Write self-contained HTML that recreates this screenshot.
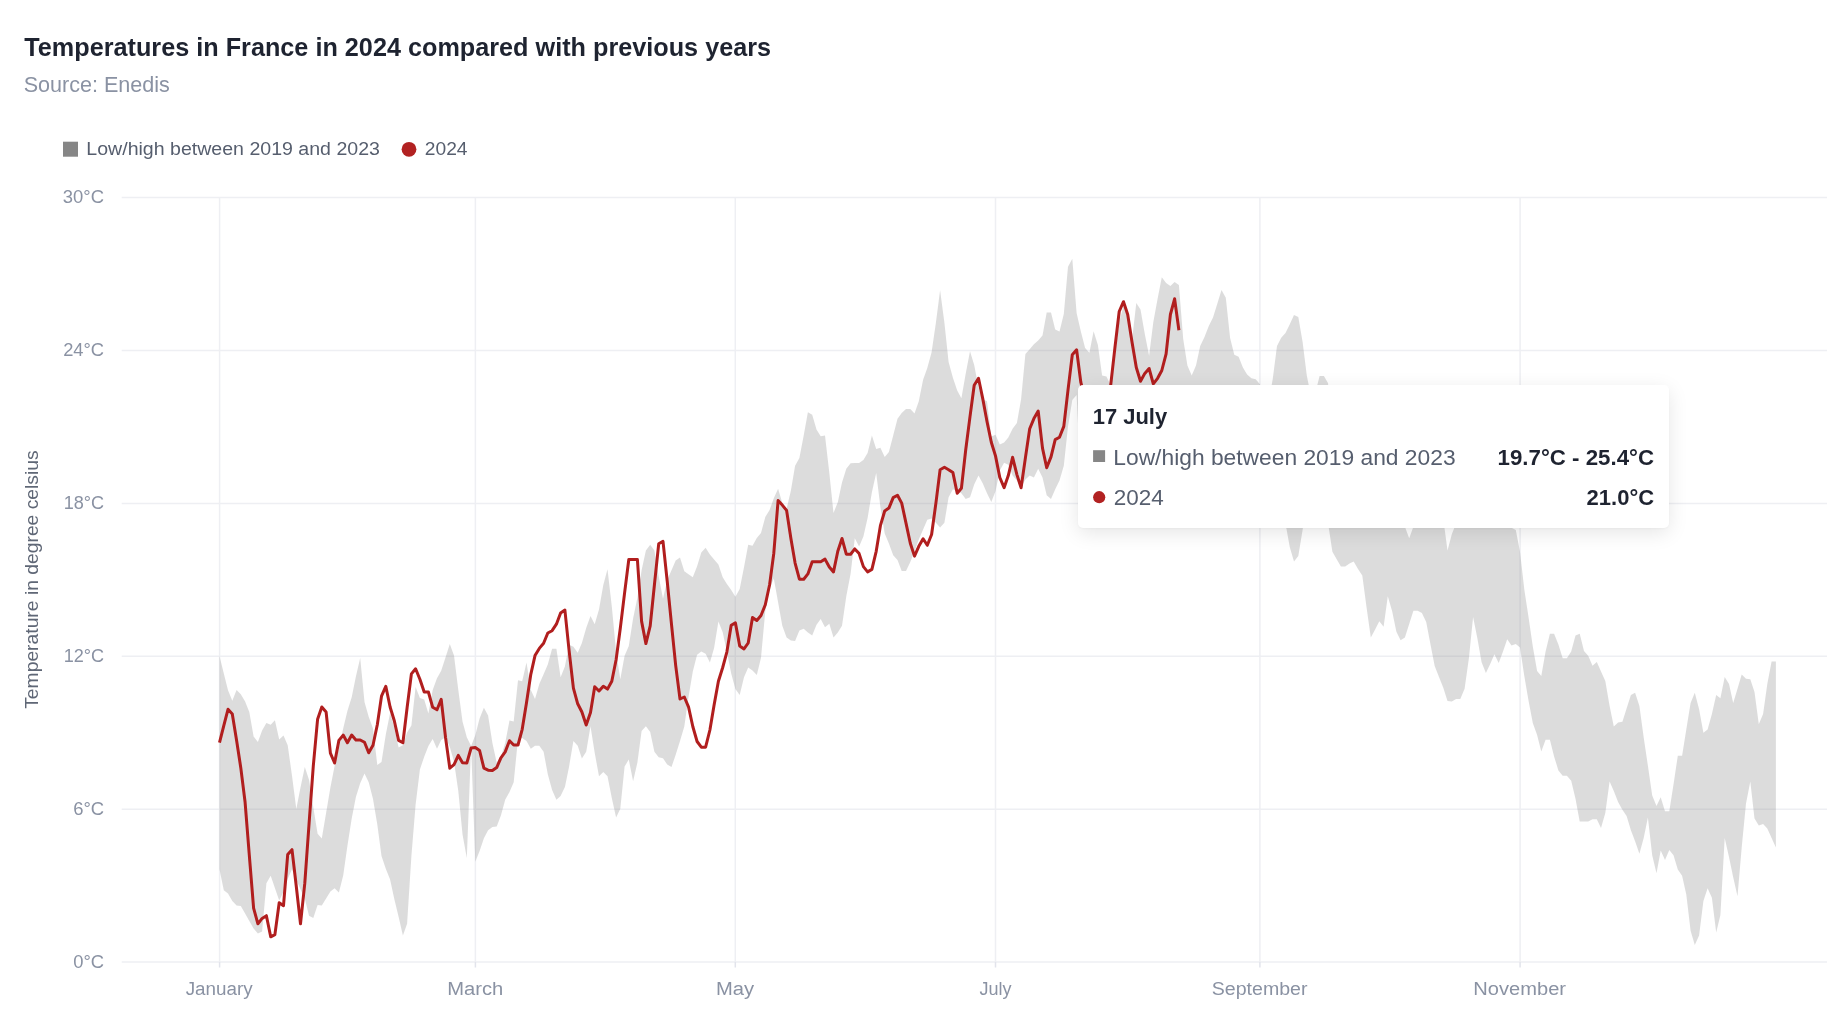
<!DOCTYPE html>
<html><head><meta charset="utf-8">
<style>
html,body{margin:0;padding:0;background:#fff;}
body{width:1842px;height:1018px;overflow:hidden;position:relative;font-family:"Liberation Sans",sans-serif;}
svg{position:absolute;left:0;top:0;will-change:transform;}
text{font-family:"Liberation Sans",sans-serif;}
.tip{position:absolute;left:1078px;top:385px;width:591px;height:142.9px;background:#fff;border-radius:5px;box-shadow:0 5px 20px rgba(0,0,0,0.10),0 1px 3px rgba(0,0,0,0.04);}
</style></head><body>
<svg width="1842" height="1018" viewBox="0 0 1842 1018">
<g stroke="#eeeff3" stroke-width="1.5" fill="none">
<path d="M121.7,197.4H1827M121.7,350.4H1827M121.7,503.4H1827M121.7,656.3H1827M121.7,809.2H1827M121.7,962H1827"/>
<path d="M219.6,197V962M475.4,197V962M735.3,197V962M995.5,197V962M1259.9,197V962M1520.1,197V962"/>
</g>
<path stroke="#e2e4ec" stroke-width="1.5" fill="none" d="M219.6,962V967.5M475.4,962V967.5M735.3,962V967.5M995.5,962V967.5M1259.9,962V967.5M1520.1,962V967.5"/>
<path d="M219.5,655.9L223.8,673.6L228.0,690.3L232.3,700.7L236.6,689.9L240.8,694.2L245.1,701.5L249.3,711.9L253.6,736.4L257.9,741.9L262.1,730.6L266.4,723.1L270.7,724.7L274.9,720.3L279.2,739.4L283.5,735.5L287.7,745.3L292.0,775.7L296.3,809.1L300.5,787.5L304.8,766.9L309.0,779.7L313.3,807.2L317.6,833.7L321.8,838.6L326.1,813.1L330.4,787.5L334.6,765.9L338.9,748.2L343.2,728.6L347.4,710.9L351.7,697.2L355.9,676.5L360.2,657.9L364.5,702.1L368.7,716.8L373.0,728.6L377.3,764.9L381.5,762.0L385.8,734.5L390.1,712.9L394.3,727.6L398.6,747.6L402.9,745.3L407.1,732.5L411.4,725.6L415.6,687.1L419.9,697.9L424.2,699.4L428.4,713.6L432.7,690.0L437.0,678.2L441.2,670.8L445.5,657.6L449.8,643.9L454.0,655.6L458.3,690.0L462.5,721.5L466.8,737.2L471.1,746.0L475.3,735.2L479.6,718.5L483.9,707.7L488.1,715.6L492.4,743.1L496.7,762.7L500.9,756.8L505.2,743.1L509.5,720.5L513.7,721.5L518.0,680.2L522.2,681.2L526.5,662.5L530.8,690.0L535.0,698.9L539.3,684.1L543.6,674.3L547.8,664.5L552.1,648.8L556.4,648.8L560.6,677.2L564.9,666.4L569.1,644.8L573.4,646.8L577.7,652.7L581.9,642.9L586.2,628.1L590.5,616.0L594.7,624.2L599.0,609.5L603.3,585.0L607.5,569.3L611.8,606.6L616.1,651.8L620.3,679.3L624.6,655.7L628.8,645.9L633.1,618.4L637.4,597.8L641.6,570.3L645.9,550.6L650.2,544.7L654.4,550.6L658.7,576.2L663.0,598.8L667.2,580.1L671.5,570.3L675.7,560.5L680.0,557.5L684.3,571.3L688.5,574.2L692.8,577.2L697.1,566.3L701.3,552.6L705.6,547.7L709.9,554.6L714.1,559.5L718.4,564.4L722.7,577.2L726.9,584.0L731.2,589.9L735.4,596.8L739.7,588.9L744.0,567.3L748.2,544.7L752.5,545.7L756.8,537.9L761.0,532.9L765.3,516.9L769.6,510.0L773.8,498.2L778.1,488.8L782.3,503.1L786.6,509.0L790.9,490.4L795.1,465.8L799.4,458.0L803.7,435.4L807.9,412.2L812.2,414.7L816.5,429.5L820.7,436.3L825.0,435.4L829.3,472.7L833.5,513.0L837.8,502.2L842.0,482.5L846.3,468.8L850.6,463.3L854.8,462.9L859.1,462.9L863.4,459.9L867.6,453.0L871.9,435.4L876.2,449.1L880.4,447.7L884.7,457.0L888.9,452.1L893.2,435.4L897.5,418.7L901.7,413.1L906.0,409.1L910.3,409.1L914.5,413.5L918.8,401.3L923.1,379.7L927.3,367.9L931.6,352.2L935.9,322.7L940.1,290.3L944.4,322.7L948.6,362.0L952.9,377.7L957.2,390.5L961.4,398.3L965.7,373.8L970.0,351.2L974.2,364.9L978.5,387.5L982.8,399.3L987.0,401.3L991.3,436.6L995.5,434.7L999.8,444.5L1004.1,442.5L1008.3,437.6L1012.6,428.8L1016.9,422.9L1021.1,399.3L1025.4,354.1L1029.7,349.2L1033.9,344.3L1038.2,340.4L1042.5,335.5L1046.7,312.5L1051.0,312.5L1055.2,329.6L1059.5,331.5L1063.8,313.9L1068.0,266.7L1072.3,258.8L1076.6,312.9L1080.8,331.2L1085.1,347.9L1089.4,352.8L1093.6,331.2L1097.9,344.9L1102.1,375.4L1106.4,376.4L1110.7,385.2L1114.9,355.7L1119.2,322.0L1123.5,306.0L1127.7,316.5L1132.0,340.0L1136.3,303.1L1140.5,309.6L1144.8,334.1L1149.1,355.7L1153.3,322.3L1157.6,298.8L1161.8,277.2L1166.1,283.0L1170.4,286.0L1174.6,282.1L1178.9,285.0L1183.2,339.0L1187.4,365.6L1191.7,375.4L1196.0,365.6L1200.2,345.9L1204.5,337.1L1208.7,326.3L1213.0,317.4L1217.3,303.7L1221.5,289.9L1225.8,297.8L1230.1,338.1L1234.3,354.8L1238.6,356.7L1242.9,367.5L1247.1,374.4L1251.4,378.3L1255.7,379.3L1259.9,384.2L1264.2,397.0L1268.4,402.9L1272.7,379.3L1277.0,345.9L1281.2,337.7L1285.5,333.1L1289.8,324.3L1294.0,314.9L1298.3,317.0L1302.6,342.0L1306.8,375.4L1311.1,397.0L1315.3,393.1L1319.6,376.0L1323.9,376.0L1328.1,383.2L1332.4,470.0L1336.7,470.0L1340.9,470.0L1345.2,470.0L1349.5,470.0L1353.7,470.0L1358.0,470.0L1362.3,470.0L1366.5,470.0L1370.8,470.0L1375.0,470.0L1379.3,470.0L1383.6,470.0L1387.8,470.0L1392.1,470.0L1396.4,470.0L1400.6,470.0L1404.9,526.7L1409.2,538.2L1413.4,526.7L1417.7,470.0L1421.9,470.0L1426.2,470.0L1430.5,470.0L1434.7,470.0L1439.0,470.0L1443.3,519.1L1447.5,550.6L1451.8,534.3L1456.1,523.4L1460.3,470.0L1464.6,470.0L1468.9,470.0L1473.1,470.0L1477.4,470.0L1481.6,470.0L1485.9,470.0L1490.2,470.0L1494.4,470.0L1498.7,470.0L1503.0,470.0L1507.2,470.0L1511.5,527.8L1515.8,529.9L1520.0,551.7L1524.3,589.5L1528.5,617.0L1532.8,646.4L1537.1,671.0L1541.3,675.9L1545.6,651.4L1549.9,633.7L1554.1,633.7L1558.4,644.5L1562.7,658.2L1566.9,658.2L1571.2,651.4L1575.5,635.6L1579.7,633.7L1584.0,651.0L1588.2,655.7L1592.5,665.8L1596.8,662.0L1601.0,671.4L1605.3,680.9L1609.6,706.0L1613.8,726.5L1618.1,722.4L1622.4,721.7L1626.6,708.5L1630.9,695.0L1635.1,692.8L1639.4,706.0L1643.7,737.5L1647.9,765.7L1652.2,795.6L1656.5,806.0L1660.7,797.2L1665.0,811.3L1669.3,811.3L1673.5,784.6L1677.8,755.7L1682.1,755.7L1686.3,729.6L1690.6,702.9L1694.8,692.8L1699.1,709.2L1703.4,732.7L1707.6,729.6L1711.9,713.9L1716.2,695.0L1720.4,698.2L1724.7,677.1L1729.0,684.0L1733.2,702.9L1737.5,688.7L1741.7,674.6L1746.0,678.7L1750.3,679.3L1754.5,691.9L1758.8,724.3L1763.1,713.9L1767.3,684.0L1771.6,661.4L1775.9,661.4L1775.9,847.5L1771.6,838.1L1767.3,828.6L1763.1,823.9L1758.8,825.5L1754.5,818.6L1750.3,781.5L1746.0,803.5L1741.7,847.5L1737.5,896.2L1733.2,877.3L1729.0,856.9L1724.7,838.1L1720.4,915.1L1716.2,932.4L1711.9,897.8L1707.6,888.3L1703.4,900.9L1699.1,935.5L1694.8,944.9L1690.6,930.8L1686.3,894.6L1682.1,875.8L1677.8,869.5L1673.5,855.3L1669.3,850.0L1665.0,860.1L1660.7,850.6L1656.5,873.3L1652.2,855.3L1647.9,817.6L1643.7,838.1L1639.4,853.8L1635.1,841.2L1630.9,830.2L1626.6,816.0L1622.4,809.8L1618.1,801.9L1613.8,790.9L1609.6,781.5L1605.3,812.9L1601.0,828.0L1596.8,819.2L1592.5,819.2L1588.2,821.4L1584.0,821.4L1579.7,821.4L1575.5,798.8L1571.2,780.8L1566.9,775.8L1562.7,775.8L1558.4,770.5L1554.1,756.5L1549.9,739.8L1545.6,739.8L1541.3,751.6L1537.1,734.9L1532.8,723.1L1528.5,700.5L1524.3,675.9L1520.0,647.4L1515.8,644.1L1511.5,645.5L1507.2,639.2L1503.0,651.4L1498.7,663.1L1494.4,654.3L1490.2,664.1L1485.9,673.0L1481.6,662.2L1477.4,638.6L1473.1,617.0L1468.9,658.2L1464.6,688.7L1460.3,699.1L1456.1,699.1L1451.8,701.5L1447.5,701.1L1443.3,687.7L1439.0,676.9L1434.7,666.1L1430.5,644.5L1426.2,621.9L1421.9,613.0L1417.7,610.7L1413.4,610.7L1409.2,623.9L1404.9,637.6L1400.6,640.2L1396.4,631.7L1392.1,611.1L1387.8,596.3L1383.6,626.8L1379.3,621.2L1375.0,629.8L1370.8,637.4L1366.5,607.0L1362.3,575.5L1358.0,569.0L1353.7,561.4L1349.5,563.6L1345.2,566.4L1340.9,566.4L1336.7,559.3L1332.4,551.7L1328.1,523.4L1323.9,500.0L1319.6,500.0L1315.3,500.0L1311.1,500.0L1306.8,500.0L1302.6,529.9L1298.3,556.0L1294.0,561.4L1289.8,547.3L1285.5,523.4L1281.2,480.0L1277.0,480.0L1272.7,480.0L1268.4,480.0L1264.2,480.0L1259.9,480.0L1255.7,480.0L1251.4,480.0L1247.1,480.0L1242.9,480.0L1238.6,480.0L1234.3,480.0L1230.1,480.0L1225.8,480.0L1221.5,480.0L1217.3,480.0L1213.0,480.0L1208.7,480.0L1204.5,480.0L1200.2,480.0L1196.0,480.0L1191.7,480.0L1187.4,480.0L1183.2,480.0L1178.9,480.0L1174.6,480.0L1170.4,480.0L1166.1,480.0L1161.8,480.0L1157.6,480.0L1153.3,480.0L1149.1,480.0L1144.8,480.0L1140.5,480.0L1136.3,480.0L1132.0,480.0L1127.7,480.0L1123.5,480.0L1119.2,480.0L1114.9,480.0L1110.7,480.0L1106.4,480.0L1102.1,480.0L1097.9,480.0L1093.6,480.0L1089.4,480.0L1085.1,480.0L1080.8,480.0L1076.6,395.0L1072.3,399.9L1068.0,426.4L1063.8,465.7L1059.5,480.5L1055.2,489.3L1051.0,499.1L1046.7,495.2L1042.5,477.5L1038.2,468.7L1033.9,477.5L1029.7,475.6L1025.4,479.5L1021.1,487.3L1016.9,480.5L1012.6,475.6L1008.3,464.8L1004.1,462.8L999.8,470.6L995.5,491.3L991.3,502.1L987.0,493.2L982.8,483.4L978.5,475.6L974.2,484.4L970.0,497.2L965.7,499.1L961.4,493.2L957.2,491.3L952.9,489.3L948.6,497.2L944.4,522.7L940.1,527.6L935.9,522.7L931.6,518.4L927.3,519.8L923.1,529.6L918.8,539.5L914.5,551.3L910.3,562.1L906.0,570.9L901.7,570.9L897.5,560.1L893.2,555.2L888.9,543.4L884.7,533.6L880.4,507.1L876.2,473.1L871.9,492.3L867.6,517.9L863.4,536.5L859.1,546.4L854.8,538.3L850.6,573.7L846.3,596.3L842.0,625.7L837.8,632.6L833.5,637.5L829.3,623.8L825.0,627.3L820.7,618.9L816.5,624.8L812.2,635.6L807.9,632.6L803.7,628.7L799.4,630.6L795.1,641.1L790.9,640.5L786.6,637.5L782.3,625.7L778.1,602.2L773.8,578.6L769.6,588.4L765.3,611.0L761.0,657.7L756.8,675.0L752.5,670.5L748.2,667.5L744.0,677.3L739.7,695.0L735.4,689.1L731.2,673.4L726.9,651.8L722.7,632.2L718.4,621.4L714.1,647.9L709.9,662.6L705.6,653.8L701.3,651.4L697.1,654.8L692.8,671.5L688.5,697.0L684.3,726.5L680.0,740.9L675.7,754.7L671.5,767.0L667.2,764.5L663.0,758.2L658.7,757.2L654.4,751.7L650.2,732.1L645.9,726.2L641.6,731.1L637.4,762.5L633.1,781.2L628.8,759.6L624.6,766.4L620.3,808.7L616.1,817.5L611.8,797.9L607.5,776.3L603.3,771.9L599.0,776.3L594.7,752.7L590.5,726.2L586.2,751.7L581.9,758.6L577.7,745.8L573.4,740.9L569.1,766.4L564.9,787.1L560.6,795.9L556.4,799.8L552.1,790.0L547.8,774.3L543.6,751.7L539.3,745.8L535.0,745.8L530.8,748.8L526.5,740.9L522.2,738.0L518.0,738.9L513.7,782.2L509.5,792.0L505.2,799.8L500.9,815.6L496.7,826.4L492.4,827.0L488.1,830.3L483.9,838.2L479.6,850.9L475.3,861.8L471.1,746.0L466.8,857.9L462.5,834.3L458.3,791.1L454.0,761.6L449.8,747.0L445.5,737.2L441.2,740.0L437.0,748.8L432.7,739.0L428.4,745.9L424.2,756.7L419.9,769.5L415.6,804.8L411.4,855.9L407.1,923.7L402.9,935.5L398.6,916.8L394.3,899.1L390.1,879.5L385.8,868.7L381.5,855.9L377.3,824.5L373.0,798.9L368.7,782.2L364.5,773.4L360.2,783.2L355.9,797.0L351.7,818.6L347.4,846.1L343.2,875.6L338.9,892.4L334.6,888.3L330.4,891.4L326.1,898.4L321.8,905.4L317.6,904.9L313.3,918.0L309.0,915.7L304.8,898.4L300.5,889.2L296.3,880.0L292.0,869.2L287.7,878.9L283.5,891.9L279.2,900.5L274.9,888.0L270.7,875.7L266.4,883.2L262.1,931.4L257.9,933.5L253.6,928.6L249.3,921.0L245.1,913.5L240.8,905.9L236.6,905.4L232.3,901.1L228.0,893.5L223.8,890.3L219.5,869.2Z" fill="#858585" fill-opacity="0.29"/>
<path d="M219.5,742.7L223.8,725.6L228.0,709.3L232.3,713.9L236.6,740.4L240.8,767.9L245.1,802.3L249.3,855.2L253.6,908.1L257.9,923.8L262.1,918.4L266.4,915.7L270.7,936.8L274.9,934.6L279.2,902.7L283.5,905.7L287.7,854.6L292.0,849.7L296.3,886.5L300.5,923.8L304.8,883.2L309.0,824.5L313.3,765.9L317.6,719.2L321.8,707.0L326.1,711.9L330.4,753.1L334.6,763.0L338.9,740.4L343.2,735.1L347.4,742.7L351.7,735.1L355.9,740.0L360.2,740.0L364.5,742.3L368.7,752.8L373.0,745.3L377.3,724.7L381.5,696.2L385.8,686.3L390.1,707.0L394.3,720.7L398.6,740.4L402.9,742.7L407.1,707.7L411.4,673.9L415.6,668.8L419.9,679.2L424.2,692.0L428.4,692.0L432.7,707.3L437.0,709.7L441.2,699.3L445.5,737.2L449.8,768.2L454.0,764.7L458.3,755.4L462.5,762.7L466.8,763.1L471.1,748.0L475.3,747.6L479.6,750.5L483.9,768.2L488.1,770.2L492.4,770.6L496.7,767.6L500.9,757.8L505.2,751.9L509.5,740.7L513.7,745.0L518.0,745.0L522.2,729.3L526.5,702.8L530.8,674.3L535.0,655.6L539.3,648.4L543.6,643.3L547.8,633.0L552.1,630.7L556.4,624.2L560.6,613.0L564.9,610.1L569.1,650.7L573.4,688.1L577.7,703.8L581.9,712.0L586.2,725.0L590.5,712.6L594.7,686.7L599.0,691.0L603.3,686.2L607.5,689.1L611.8,681.3L616.1,659.7L620.3,628.2L624.6,592.9L628.8,559.5L633.1,559.5L637.4,559.5L641.6,621.4L645.9,643.6L650.2,625.9L654.4,585.0L658.7,543.8L663.0,541.4L667.2,581.1L671.5,624.3L675.7,665.6L680.0,699.0L684.3,697.0L688.5,706.8L692.8,726.5L697.1,741.5L701.3,747.2L705.6,747.2L709.9,730.0L714.1,704.9L718.4,681.3L722.7,667.5L726.9,651.8L731.2,625.3L735.4,622.9L739.7,645.9L744.0,648.9L748.2,643.0L752.5,617.4L756.8,620.4L761.0,615.5L765.3,604.7L769.6,584.7L773.8,553.2L778.1,500.6L782.3,505.1L786.6,510.4L790.9,538.5L795.1,563.1L799.4,579.2L803.7,579.2L807.9,573.9L812.2,561.7L816.5,561.7L820.7,561.7L825.0,559.1L829.3,567.0L833.5,571.9L837.8,551.3L842.0,538.5L846.3,554.2L850.6,554.2L854.8,548.9L859.1,553.6L863.4,566.6L867.6,571.9L871.9,569.4L876.2,551.3L880.4,525.7L884.7,511.0L888.9,508.1L893.2,497.6L897.5,495.3L901.7,503.1L906.0,523.1L910.3,543.3L914.5,556.1L918.8,546.3L923.1,538.8L927.3,545.3L931.6,534.5L935.9,503.1L940.1,469.7L944.4,467.3L948.6,469.7L952.9,472.6L957.2,493.2L961.4,488.3L965.7,450.0L970.0,416.6L974.2,385.2L978.5,378.3L982.8,398.9L987.0,421.5L991.3,442.2L995.5,455.9L999.8,477.5L1004.1,487.7L1008.3,475.6L1012.6,457.3L1016.9,474.6L1021.1,487.7L1025.4,457.9L1029.7,428.8L1033.9,418.6L1038.2,411.1L1042.5,448.1L1046.7,467.7L1051.0,456.9L1055.2,439.6L1059.5,437.2L1063.8,426.4L1068.0,390.1L1072.3,354.7L1076.6,349.8L1080.8,382.2L1085.1,400.0L1089.4,420.0L1093.6,430.0L1097.9,430.0L1102.1,420.0L1106.4,400.0L1110.7,385.2L1114.9,347.9L1119.2,311.5L1123.5,301.7L1127.7,314.5L1132.0,342.0L1136.3,367.5L1140.5,381.3L1144.8,373.4L1149.1,368.5L1153.3,383.8L1157.6,378.3L1161.8,370.5L1166.1,353.8L1170.4,314.5L1174.6,298.8L1178.9,330.2" fill="none" stroke="#b11e1e" stroke-width="3" stroke-linejoin="round" stroke-linecap="butt"/>
<rect x="63" y="141.7" width="15" height="15" fill="#868686"/>
<circle cx="409" cy="149.3" r="7.4" fill="#b22222"/>
<text x="24.28" y="55.5" font-size="25px" font-weight="bold" fill="#1e2330" textLength="746.82" lengthAdjust="spacingAndGlyphs">Temperatures in France in 2024 compared with previous years</text>
<text x="23.64" y="91.8" font-size="22px" fill="#8a92a3" textLength="146.24" lengthAdjust="spacingAndGlyphs">Source: Enedis</text>
<text x="86.33" y="154.8" font-size="19.2px" fill="#565e6e" textLength="293.58" lengthAdjust="spacingAndGlyphs">Low/high between 2019 and 2023</text>
<text x="424.78" y="154.8" font-size="19.2px" fill="#565e6e" textLength="42.78" lengthAdjust="spacingAndGlyphs">2024</text>
<text x="62.87" y="202.8" font-size="19.2px" fill="#8a92a3" textLength="41.18" lengthAdjust="spacingAndGlyphs">30°C</text>
<text x="63.15" y="355.8" font-size="19.2px" fill="#8a92a3" textLength="40.96" lengthAdjust="spacingAndGlyphs">24°C</text>
<text x="63.66" y="508.8" font-size="19.2px" fill="#8a92a3" textLength="40.43" lengthAdjust="spacingAndGlyphs">18°C</text>
<text x="63.66" y="661.8" font-size="19.2px" fill="#8a92a3" textLength="40.43" lengthAdjust="spacingAndGlyphs">12°C</text>
<text x="73.13" y="814.8" font-size="19.2px" fill="#8a92a3" textLength="30.96" lengthAdjust="spacingAndGlyphs">6°C</text>
<text x="73.31" y="967.8" font-size="19.2px" fill="#8a92a3" textLength="30.84" lengthAdjust="spacingAndGlyphs">0°C</text>
<text x="185.64" y="994.5" font-size="19.2px" fill="#8a92a3" textLength="66.93" lengthAdjust="spacingAndGlyphs">January</text>
<text x="447.20" y="994.5" font-size="19.2px" fill="#8a92a3" textLength="56.09" lengthAdjust="spacingAndGlyphs">March</text>
<text x="715.92" y="994.5" font-size="19.2px" fill="#8a92a3" textLength="38.11" lengthAdjust="spacingAndGlyphs">May</text>
<text x="979.44" y="994.5" font-size="19.2px" fill="#8a92a3" textLength="32.02" lengthAdjust="spacingAndGlyphs">July</text>
<text x="1211.71" y="994.5" font-size="19.2px" fill="#8a92a3" textLength="95.82" lengthAdjust="spacingAndGlyphs">September</text>
<text x="1473.34" y="994.5" font-size="19.2px" fill="#8a92a3" textLength="92.70" lengthAdjust="spacingAndGlyphs">November</text>

<text transform="translate(38.3,708.8) rotate(-90)" fill="#5f6776" font-size="19.2px" textLength="258.5" lengthAdjust="spacingAndGlyphs">Temperature in degree celsius</text>
</svg>
<div class="tip"></div>
<svg width="1842" height="1018" viewBox="0 0 1842 1018">
<rect x="1093.1" y="450.2" width="12" height="11.8" fill="#868686"/>
<circle cx="1099.2" cy="497.2" r="6.1" fill="#b22222"/>
<text x="1092.67" y="423.6" font-size="22.4px" font-weight="bold" fill="#1e2330" textLength="74.54" lengthAdjust="spacingAndGlyphs">17 July</text>
<text x="1113.31" y="464.7" font-size="22.4px" fill="#565e6e" textLength="342.30" lengthAdjust="spacingAndGlyphs">Low/high between 2019 and 2023</text>
<text x="1113.66" y="504.6" font-size="22.4px" fill="#565e6e" textLength="50.02" lengthAdjust="spacingAndGlyphs">2024</text>
<text x="1497.56" y="464.7" font-size="22.4px" font-weight="bold" fill="#1e2330" textLength="156.56" lengthAdjust="spacingAndGlyphs">19.7°C - 25.4°C</text>
<text x="1586.61" y="504.6" font-size="22.4px" font-weight="bold" fill="#1e2330" textLength="67.49" lengthAdjust="spacingAndGlyphs">21.0°C</text>

</svg>
</body></html>
